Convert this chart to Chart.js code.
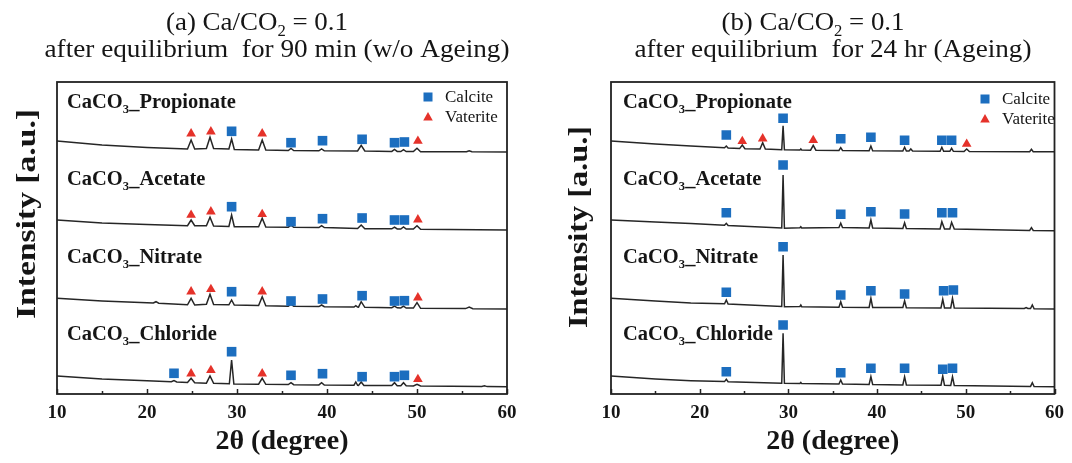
<!DOCTYPE html>
<html>
<head>
<meta charset="utf-8">
<script src="https://cdn.jsdelivr.net/npm/chart.js@4"></script>
<style>
  html, body { margin: 0; padding: 0; background: #fff; }
  #wrap { position: relative; width: 1072px; height: 463px; }
  canvas { position: absolute; top: 0; }
</style>
</head>
<body>
<div id="wrap">
  <canvas id="chartA" width="536" height="463" style="left:0"></canvas>
  <canvas id="chartB" width="536" height="463" style="left:536px"></canvas>
</div>
<script>
// sample names, phases and x ticks
const SAMPLES = ['Propionate', 'Acetate', 'Nitrate', 'Chloride'];
const PHASES = ['Calcite', 'Vaterite'];
const X_TICKS = [10, 20, 30, 40, 50, 60];

// (a) w/o ageing - patterns as [2theta, intensity a.u.] (stacked offsets included)
const L_PROP = [[10,253],[15,249],[20,246.5],[24.5,245],[24.9,254],[25.3,245],[26.6,245.5],[27,256.7],[27.4,245.5],[29.1,245],[29.4,255],[29.7,244.5],[32.4,244],[32.8,254],[33.2,244],[35.7,243.5],[36,245.5],[36.3,243.5],[39.1,243.2],[39.4,245],[39.7,243.2],[43.4,243],[43.8,248.7],[44.2,243],[47.2,242.6],[47.5,244.5],[47.8,242.6],[48.2,242.5],[48.5,244.3],[48.8,242.5],[49.6,242.4],[50,245.7],[50.4,242.3],[55.5,242.2],[55.8,243.3],[56.1,242.2],[60,242]];
const L_ACET = [[10,174],[15,171],[20,169.5],[24.5,168.3],[24.9,174],[25.3,168.3],[26.6,168.3],[27,176.7],[27.4,168],[29.1,167.5],[29.4,179],[29.7,167.3],[32.4,167.3],[32.8,175.7],[33.2,167],[35.7,166.8],[36,168.8],[36.3,166.7],[39.1,166.5],[39.4,168.3],[39.7,166.4],[43.4,165.5],[43.8,169],[44.2,165.3],[47.2,165.2],[47.5,166.8],[47.8,165.1],[48.2,165],[48.5,167],[48.8,165],[49.6,165],[50,168.3],[50.4,164.8],[60,164]];
const L_NITR = [[10,95.7],[15,93],[20,91.2],[20.7,91],[21,92.3],[21.3,90.8],[24.5,89.2],[24.9,95.7],[25.3,89],[26.6,89.7],[27,99.7],[27.4,89.5],[29.1,89.2],[29.4,94],[29.7,89],[32.4,88.5],[32.8,97.3],[33.2,88.3],[35.7,87.8],[36,89.8],[36.3,87.7],[39.1,87.4],[39.4,89],[39.7,87.3],[43,87],[43.2,88.3],[43.4,86.9],[43.5,86.8],[43.8,92.3],[44.2,86.7],[47.2,86.3],[47.5,87.8],[47.8,86.2],[48.2,86.1],[48.5,87.8],[48.8,86],[49.6,85.9],[50,91.3],[50.4,85.7],[55.4,85.4],[55.8,86.9],[56.2,85.3],[60,85]];
const L_CHLO = [[10,18],[15,15],[20,13.3],[22.7,12.2],[23,13.4],[23.3,12],[24.5,11.4],[24.9,15.7],[25.3,11.3],[26.6,10.8],[27,18],[27.4,10.7],[29.15,10.2],[29.4,34],[29.65,10],[32.4,9.8],[32.8,15.7],[33.2,9.7],[35.7,9.4],[36,11.3],[36.3,9.3],[39.1,9.1],[39.4,11.3],[39.7,9],[43,8.8],[43.2,12],[43.4,8.7],[43.5,8.6],[43.8,12],[44.1,8.5],[47.2,8.4],[47.5,11.3],[47.8,8.3],[48.2,8.2],[48.5,11.3],[48.8,8.2],[49.6,8.1],[50,9.7],[50.4,8],[57.2,7.5],[57.5,8.3],[57.8,7.4],[60,7.3]];
const L_CALCITE = [[29.4,262.7],[36,251.3],[39.5,253.3],[43.9,254.7],[47.5,251.3],[48.6,252],
  [29.4,187.3],[36,172.3],[39.5,175.3],[43.9,176],[47.5,174],[48.6,174],
  [29.4,102.3],[36,93],[39.5,95],[43.9,98.3],[47.5,93],[48.6,93.3],
  [23,20.7],[29.4,42.3],[36,18.7],[39.5,20.3],[43.9,17.3],[47.5,17.3],[48.6,18.7]];
const L_VATERITE = [[24.9,260.3],[27.1,262.3],[32.8,260.3],[50.1,253],
  [24.9,179],[27.1,182.3],[32.8,179.7],[50.1,174.3],
  [24.9,102.3],[27.1,104.7],[32.8,102.3],[50.1,96.3],
  [24.9,20.3],[27.1,23.7],[32.8,20.3],[50.1,14.7]];

// (b) ageing 24 hr
const R_PROP = [[10,253],[15,250],[19,248],[22.8,246.2],[23,248],[23.2,246],[24.5,245.4],[24.8,249],[25.1,245.3],[26.8,245],[27.1,251.3],[27.4,245],[29.25,244.3],[29.4,268.3],[29.55,244.2],[31.3,244],[31.4,245],[31.5,244],[32.5,243.8],[32.8,248.7],[33.1,243.8],[35.7,243.5],[35.9,246.3],[36.1,243.5],[39.1,243.3],[39.3,248],[39.5,243.3],[42.9,243],[43.1,246.7],[43.3,243],[43.6,243],[43.8,245],[44,243],[47.1,242.8],[47.3,246.7],[47.5,242.8],[48.2,242.7],[48.4,245.7],[48.6,242.7],[49.8,242.5],[50.1,245],[50.4,242.5],[57.2,242.3],[57.4,244.7],[57.6,242.3],[60,242.3]];
const R_ACET = [[10,174],[15,172],[19,170.5],[22.8,168.7],[23,170.7],[23.2,168.5],[29.25,166],[29.4,219],[29.55,165.7],[31.3,166.2],[31.4,167.3],[31.5,166.1],[35.7,166.5],[35.9,170.7],[36.1,166.5],[39.1,166],[39.3,174],[39.5,166],[42.9,165.5],[43.1,171.3],[43.3,165.5],[47.1,165],[47.3,172.3],[47.6,165],[48.2,165],[48.4,171.7],[48.7,165],[57.2,163.6],[57.4,166.3],[57.6,163.5],[60,163.3]];
const R_NITR = [[10,95.7],[15,93],[19,91],[22.8,90.2],[23,94],[23.2,90],[29.25,87.5],[29.4,139],[29.55,87.3],[31.3,87.5],[31.4,89],[31.5,87.3],[35.7,86.8],[35.9,92.3],[36.1,86.7],[39.1,86.6],[39.3,95.7],[39.5,86.5],[42.9,86.4],[43.1,93.3],[43.3,86.3],[47.2,86.1],[47.4,94.7],[47.6,86],[48.3,86],[48.5,95.7],[48.7,86],[56.6,85.5],[56.8,86.5],[57,85.5],[57.3,85.4],[57.5,89],[57.7,85.3],[60,85]];
const R_CHLO = [[10,18],[15,15],[19,13.3],[22.8,12.4],[23,14.7],[23.2,12.3],[29.25,10.8],[29.4,60.7],[29.55,10.7],[31.3,10.5],[31.4,11.5],[31.5,10.4],[35.7,10],[35.9,14],[36.1,10],[39.1,9.6],[39.3,17.3],[39.5,9.5],[42.9,9.1],[43.1,17.3],[43.3,9],[47.2,8.8],[47.4,18],[47.6,8.7],[48.3,8.6],[48.5,17.3],[48.7,8.5],[57.3,7.6],[57.5,11.3],[57.7,7.5],[60,7.3]];
const R_CALCITE = [[23,259],[29.4,275.7],[35.9,255.3],[39.3,256.7],[43.1,253.7],[47.3,253.7],[48.4,253.7],
  [23,181.3],[29.4,229],[35.9,179.7],[39.3,182.3],[43.1,180],[47.3,181.3],[48.5,181.3],
  [23,101.7],[29.4,147.3],[35.9,99],[39.3,103.3],[43.1,100],[47.5,103.3],[48.6,104],
  [23,22.3],[29.4,69],[35.9,21.3],[39.3,25.7],[43.1,25.7],[47.4,24.7],[48.5,25.7]];
const R_VATERITE = [[24.8,252.7],[27.1,255.3],[32.8,253.7],[50.1,250]];

const SERIF = '"Liberation Serif", "Times New Roman", serif';
const BLUE = '#1c6ebf';
const RED = '#e5322a';
const INK = '#151515';

// draw text made of runs [text, isSubscript], optionally squeezed to a width
function drawRuns(ctx, runs, x, y, size, weight, align, fitWidth, rot) {
  ctx.save();
  const parts = runs.map(r => {
    const s = r[1] ? size * 0.62 : size;
    ctx.font = `${weight} ${s}px ${SERIF}`;
    return { t: r[0], s: s, sub: r[1], w: ctx.measureText(r[0]).width };
  });
  const total = parts.reduce((a, p) => a + p.w, 0);
  ctx.translate(x, y);
  if (rot) ctx.rotate(rot);
  if (fitWidth) ctx.scale(fitWidth / total, 1);
  let cx = align === 'center' ? -total / 2 : 0;
  ctx.fillStyle = INK;
  ctx.textAlign = 'left';
  ctx.textBaseline = 'alphabetic';
  parts.forEach(p => {
    ctx.font = `${weight} ${p.s}px ${SERIF}`;
    ctx.fillText(p.t, cx, p.sub ? size * 0.22 : 0);
    cx += p.w;
  });
  ctx.restore();
}

const PANELS = [
  {
    id: 'chartA', padL: 57, padR: 29,
    traces: [L_PROP, L_ACET, L_NITR, L_CHLO], calcite: L_CALCITE, vaterite: L_VATERITE,
    t1: [['(a) Ca/CO', false], ['2', true], [' = 0.1', false]], t1x: 257, t1w: 182,
    t2: 'after equilibrium  for 90 min (w/o Ageing)', t2x: 277, t2w: 465,
    ylab: { x: 35, y: 214, w: 210 }, sampleX: 67, legX: 428, legY: 97
  },
  {
    id: 'chartB', padL: 75, padR: 11,
    traces: [R_PROP, R_ACET, R_NITR, R_CHLO], calcite: R_CALCITE, vaterite: R_VATERITE,
    t1: [['(b) Ca/CO', false], ['2', true], [' = 0.1', false]], t1x: 277, t1w: 183,
    t2: 'after equilibrium  for 24 hr (Ageing)', t2x: 297, t2w: 397,
    ylab: { x: 51, y: 227, w: 202 }, sampleX: 87, legX: 449, legY: 99
  }
];

const LABEL_BASE = [108, 185, 263, 340];

function decorPlugin(p) {
  return {
    id: 'decor',
    afterDatasetsDraw(chart) {
      const ctx = chart.ctx;
      const a = chart.chartArea;
      const xs = chart.scales.x;
      // frame
      ctx.save();
      ctx.strokeStyle = '#222';
      ctx.lineWidth = 1.8;
      ctx.strokeRect(a.left, a.top, a.right - a.left, a.bottom - a.top);
      // inward ticks on the bottom axis
      ctx.lineWidth = 1.5;
      for (let v = X_TICKS[0]; v <= X_TICKS[X_TICKS.length - 1]; v += 5) {
        const px = Math.round(xs.getPixelForValue(v)) + 0.5;
        const len = X_TICKS.includes(v) ? 5 : 3;
        ctx.beginPath();
        ctx.moveTo(px, a.bottom);
        ctx.lineTo(px, a.bottom - len);
        ctx.stroke();
      }
      ctx.restore();

      // titles
      drawRuns(ctx, p.t1, p.t1x, 30, 26, 'normal', 'center', p.t1w);
      drawRuns(ctx, [[p.t2, false]], p.t2x, 57, 26, 'normal', 'center', p.t2w);
      // y label
      drawRuns(ctx, [['Intensity [a.u.]', false]], p.ylab.x, p.ylab.y, 28, 'bold', 'center', p.ylab.w, -Math.PI / 2);
      // sample names
      SAMPLES.forEach((s, i) => {
        drawRuns(ctx, [['CaCO', false], ['3', true], ['_' + s, false]], p.sampleX, LABEL_BASE[i], 20.5, 'bold', 'left');
      });
      // legend
      ctx.save();
      ctx.fillStyle = BLUE;
      ctx.fillRect(p.legX - 4.5, p.legY - 4.5, 9, 9);
      ctx.fillStyle = RED;
      const ty = p.legY + 20;
      ctx.beginPath();
      ctx.moveTo(p.legX, ty - 5);
      ctx.lineTo(p.legX + 4.8, ty + 3.5);
      ctx.lineTo(p.legX - 4.8, ty + 3.5);
      ctx.closePath();
      ctx.fill();
      ctx.restore();
      drawRuns(ctx, [[PHASES[0], false]], p.legX + 17, p.legY + 5, 17, 'normal', 'left');
      drawRuns(ctx, [[PHASES[1], false]], p.legX + 17, ty + 5, 17, 'normal', 'left');
    }
  };
}

function makeChart(p) {
  const datasets = p.traces.map((t, i) => ({
    label: SAMPLES[i],
    data: t.map(([x, y]) => ({ x, y })),
    showLine: true,
    borderColor: '#262626',
    borderWidth: 1.5,
    pointRadius: 0,
    tension: 0,
    order: 3
  }));
  datasets.push({
    label: PHASES[0],
    data: p.calcite.map(([x, y]) => ({ x, y })),
    pointStyle: 'rect', pointRadius: 6.8,
    backgroundColor: BLUE, pointBorderWidth: 0, borderWidth: 0,
    order: 1
  });
  datasets.push({
    label: PHASES[1],
    data: p.vaterite.map(([x, y]) => ({ x, y })),
    pointStyle: 'triangle', pointRadius: 5.6,
    backgroundColor: RED, pointBorderWidth: 0, borderWidth: 0,
    order: 1
  });

  new Chart(document.getElementById(p.id), {
    type: 'scatter',
    data: { datasets },
    options: {
      responsive: false,
      animation: false,
      devicePixelRatio: 1,
      layout: { padding: { left: p.padL, right: p.padR, top: 82, bottom: 0 } },
      plugins: { legend: { display: false }, tooltip: { enabled: false } },
      scales: {
        x: {
          type: 'linear', min: 10, max: 60,
          afterBuildTicks: s => { s.ticks = X_TICKS.map(v => ({ value: v })); },
          afterFit: s => { s.height = 69; },
          grid: { display: false, drawTicks: false },
          border: { display: false },
          ticks: { font: { family: SERIF, weight: 'bold', size: 19 }, color: INK, padding: 8, maxRotation: 0 },
          title: {
            display: true, text: '2θ (degree)', color: INK,
            font: { family: SERIF, weight: 'bold', size: 28 },
            padding: { top: 0, bottom: 4 }
          }
        },
        y: { display: false, min: 0, max: 312 }
      }
    },
    plugins: [decorPlugin(p)]
  });
}

PANELS.forEach(makeChart);
</script>
</body>
</html>
